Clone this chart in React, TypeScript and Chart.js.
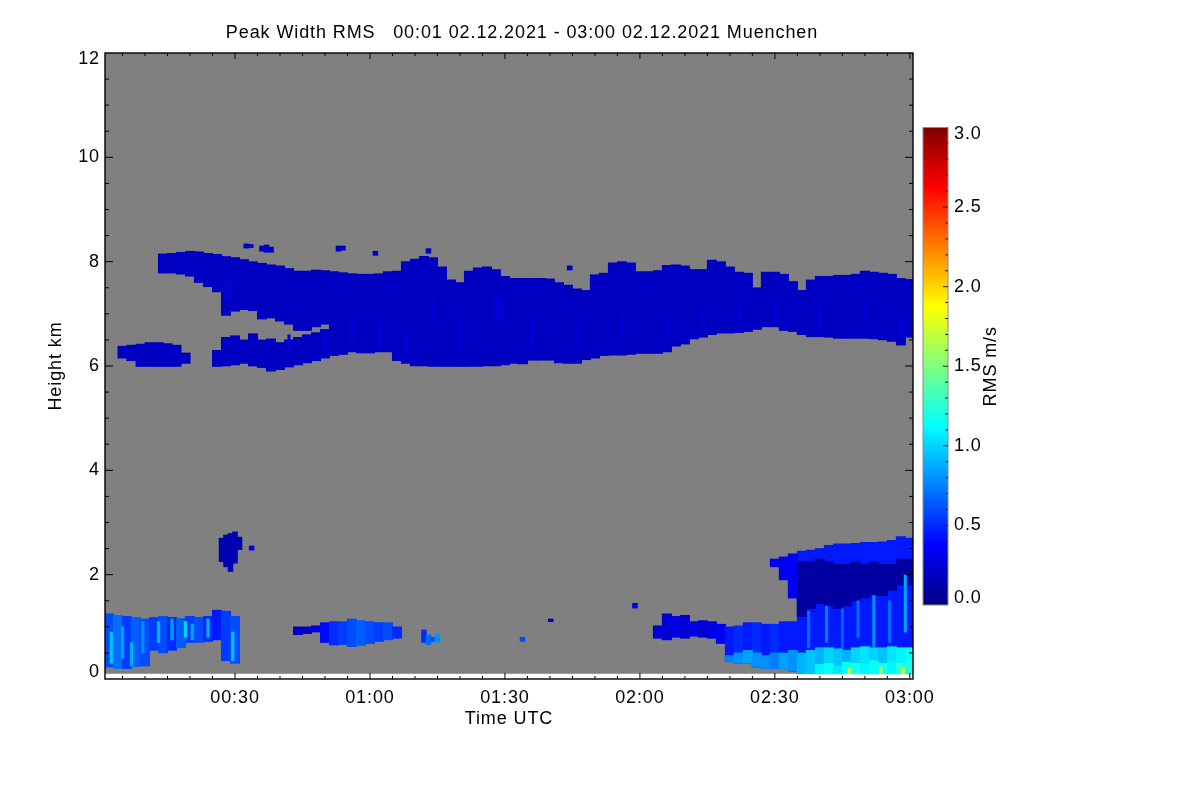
import React, { useEffect, useRef } from "react";
import Chart from "chart.js/auto";

// time axis in minutes after 00:00 UTC, height in km
const X_MIN = 1.1;
const X_MAX = 180.7;
const Y_MIN = 0;
const Y_MAX = 12;
const GATE_MIN = 0.1; // lowest range gate, below it the image is empty
const RMS_MAX = 3;

const xTickMinutes = [30, 60, 90, 120, 150, 180];
const xTickLabels = ["00:30", "01:00", "01:30", "02:00", "02:30", "03:00"];
const yTickValues = [0, 2, 4, 6, 8, 10, 12];
const cbTickValues = [0, 0.5, 1, 1.5, 2, 2.5, 3];
const cbTickLabels = ["0.0", "0.5", "1.0", "1.5", "2.0", "2.5", "3.0"];

// --- upper (ice) layer, 2 min columns
const upperTimes = [
  14, 16, 18, 20, 22, 24, 26, 28, 30, 32, 34, 36, 38, 40, 42, 44, 46, 48, 50, 52,
  54, 56, 58, 60, 62, 64, 66, 68, 70, 72, 74, 76, 78, 80, 82, 84, 86, 88, 90, 92,
  94, 96, 98, 100, 102, 104, 106, 108, 110, 112, 114, 116, 118, 120, 122, 124,
  126, 128, 130, 132, 134, 136, 138, 140, 142, 144, 146, 148, 150, 152, 154, 156,
  158, 160, 162, 164, 166, 168, 170, 172, 174, 176, 178, 180,
];
const upperTop = [
  8.15, 8.16, 8.18, 8.2, 8.19, 8.16, 8.14, 8.1, 8.08, 8.04,
  8.0, 7.97, 7.94, 7.92, 7.87, 7.82, 7.82, 7.84, 7.83, 7.81,
  7.79, 7.77, 7.76, 7.76, 7.77, 7.81, 7.82, 8.0, 8.05, 8.1,
  8.08, 7.9, 7.65, 7.6, 7.82, 7.88, 7.9, 7.85, 7.72, 7.68,
  7.68, 7.68, 7.68, 7.67, 7.6, 7.55, 7.48, 7.45, 7.75, 7.78,
  7.98, 8.0, 7.98, 7.81, 7.81, 7.83, 7.93, 7.94, 7.92, 7.85,
  7.85, 8.03, 8.0, 7.9, 7.8, 7.78, 7.5, 7.8, 7.8, 7.76,
  7.62, 7.45, 7.65, 7.72, 7.72, 7.74, 7.74, 7.76, 7.82, 7.8,
  7.78, 7.76, 7.68, 7.66,
];
const upperBase = [
  7.78, 7.78, 7.76, 7.72, 7.6, 7.52, 7.42, 6.97, 7.05, 7.08,
  7.06, 6.9, 6.92, 6.86, 6.8, 6.68, 6.68, 6.75, 6.8, 6.2,
  6.22, 6.27, 6.25, 6.25, 6.27, 6.27, 6.1, 6.05, 6.0, 6.0,
  5.99, 5.99, 5.99, 5.99, 5.99, 5.99, 6.0, 6.0, 6.02, 6.05,
  6.04, 6.11, 6.11, 6.11, 6.06, 6.05, 6.05, 6.12, 6.15, 6.2,
  6.21, 6.21, 6.22, 6.24, 6.24, 6.24, 6.27, 6.38, 6.42, 6.52,
  6.55, 6.6, 6.63, 6.63, 6.64, 6.66, 6.7, 6.75, 6.75, 6.68,
  6.66, 6.6, 6.56, 6.56, 6.55, 6.53, 6.53, 6.53, 6.53, 6.52,
  6.5, 6.47, 6.4, 6.55,
];
const upperRms = 0.2;

const lowerFragTimes = [26, 28, 30, 32, 34, 36, 38, 40, 42, 44, 46, 48, 50];
const lowerFragLo = [5.99, 6.0, 6.02, 6.05, 6.0, 5.97, 5.9, 5.93, 5.98, 6.02, 6.06, 6.1, 6.15];
const lowerFragHi = [6.3, 6.55, 6.58, 6.5, 6.62, 6.5, 6.52, 6.45, 6.5, 6.55, 6.6, 6.64, 6.7];

const westTimes = [5, 7, 9, 11, 13, 15, 17, 19];
const westLo = [6.15, 6.1, 5.99, 5.99, 5.99, 5.99, 5.99, 6.05];
const westHi = [6.38, 6.4, 6.42, 6.45, 6.45, 6.43, 6.4, 6.25];

const cirrusBitTimes = [32.5, 33.5, 36, 37, 38, 53, 54, 61.2, 73, 104.4];
const cirrusBitLo = [8.26, 8.27, 8.2, 8.18, 8.18, 8.2, 8.22, 8.12, 8.16, 7.84];
const cirrusBitHi = [8.34, 8.33, 8.3, 8.32, 8.28, 8.3, 8.3, 8.2, 8.25, 7.92];

const upperStreakTimes = [28, 29, 42, 50, 56, 62, 68, 74, 80, 88, 89, 96, 106, 116, 126, 134, 142, 150, 160, 170, 178];
const upperStreakLo = [7.25, 7.3, 6.3, 6.3, 6.4, 6.35, 6.2, 6.9, 6.3, 6.9, 6.8, 6.4, 6.4, 6.6, 6.5, 6.7, 6.8, 6.8, 6.7, 6.8, 6.55];
const upperStreakHi = [7.6, 7.55, 6.6, 6.7, 6.9, 6.8, 6.6, 7.3, 6.8, 7.4, 7.3, 6.9, 6.8, 7.0, 6.9, 7.1, 7.1, 7.2, 7.1, 7.2, 6.9];
const upperStreakRms = 0.28;

// --- boundary layer, first half hour
const blTimes = [2, 4, 6, 8, 10, 12, 14, 16, 18, 20, 22, 24, 26, 28, 30];
const blLo = [0.23, 0.2, 0.2, 0.24, 0.25, 0.55, 0.5, 0.55, 0.6, 0.7, 0.7, 0.72, 0.75, 0.35, 0.3];
const blHi = [1.25, 1.22, 1.2, 1.18, 1.15, 1.18, 1.2, 1.18, 1.16, 1.2, 1.18, 1.2, 1.32, 1.3, 1.2];
const blRms = [0.6, 0.7, 0.55, 0.65, 0.6, 0.55, 0.6, 0.5, 0.65, 0.55, 0.6, 0.5, 0.45, 0.55, 0.6];

const blStreakTimes = [2.5, 5, 7, 9.5, 13, 16, 19, 20.5, 24, 29.5];
const blStreakLo = [0.3, 0.4, 0.25, 0.5, 0.7, 0.75, 0.8, 0.75, 0.8, 0.35];
const blStreakHi = [0.9, 1.0, 0.7, 1.1, 1.1, 1.15, 1.1, 1.05, 1.15, 0.9];
const blStreakRms = [0.95, 0.85, 0.9, 0.8, 0.9, 0.85, 1.0, 0.85, 0.9, 0.95];

const blobTimes = [27, 28, 29, 30, 31];
const blobLo = [2.25, 2.15, 2.06, 2.22, 2.48];
const blobHi = [2.7, 2.76, 2.79, 2.82, 2.72];
const blobRms = 0.15;

const midTimes = [44, 46, 48, 50, 52, 54, 56, 58, 60, 62, 64, 66];
const midLo = [0.85, 0.87, 0.9, 0.7, 0.65, 0.66, 0.62, 0.64, 0.68, 0.72, 0.75, 0.78];
const midHi = [1.0, 1.0, 1.02, 1.08, 1.1, 1.1, 1.15, 1.12, 1.1, 1.08, 1.08, 1.0];
const midRms = [0.2, 0.2, 0.3, 0.4, 0.5, 0.55, 0.6, 0.65, 0.6, 0.55, 0.6, 0.5];

const smallTimes = [72, 73, 74, 75];
const smallLo = [0.7, 0.66, 0.72, 0.7];
const smallHi = [0.94, 0.84, 0.8, 0.86];
const smallRms = [0.5, 0.7, 0.6, 0.8];

const speckTimes = [33.7, 93.9, 100.2, 118.9];
const speckLo = [2.47, 0.72, 1.1, 1.36];
const speckHi = [2.55, 0.8, 1.15, 1.45];
const speckRms = [0.3, 0.6, 0.2, 0.3];

// --- boundary layer, last hour
const lrTimes = [124, 126, 128, 130, 132, 134, 136, 138, 140, 142, 144, 146, 148, 150, 152, 154];
const lrLo = [0.78, 0.75, 0.8, 0.78, 0.82, 0.8, 0.78, 0.68, 0.33, 0.3, 0.3, 0.22, 0.2, 0.2, 0.2, 0.15];
const lrHi = [1.02, 1.25, 1.2, 1.22, 1.1, 1.12, 1.1, 1.05, 1.0, 1.02, 1.08, 1.08, 1.05, 1.05, 1.1, 1.1];
const lrRms = [0.25, 0.25, 0.3, 0.25, 0.3, 0.25, 0.3, 0.35, 0.45, 0.5, 0.45, 0.5, 0.45, 0.5, 0.45, 0.45];

const fringeTimes = [150, 152, 154];
const fringeLo = [2.15, 1.9, 1.55];
const fringeHi = [2.3, 2.34, 2.4];
const fringeRms = 0.35;

const blockTimes = [156, 158, 160, 162, 164, 166, 168, 170, 172, 174, 176, 178, 180];
const blockTop = [2.45, 2.47, 2.5, 2.56, 2.59, 2.59, 2.6, 2.62, 2.62, 2.63, 2.66, 2.73, 2.7];
const blockRms = 0.45;
const coreLo = [1.2, 1.35, 1.45, 1.4, 1.35, 1.4, 1.5, 1.55, 1.6, 1.6, 1.7, 1.8, 1.8];
const coreHi = [2.25, 2.25, 2.3, 2.25, 2.2, 2.2, 2.25, 2.2, 2.25, 2.2, 2.2, 2.3, 2.3];
const coreRms = 0.1;

const blockStreakTimes = [157.5, 161.5, 165, 168.5, 172, 175.5, 179];
const blockStreakLo = [0.6, 0.7, 0.6, 0.8, 0.6, 0.7, 0.9];
const blockStreakHi = [1.3, 1.4, 1.35, 1.5, 1.6, 1.5, 2.0];
const blockStreakRms = [0.7, 0.75, 0.65, 0.7, 0.8, 0.7, 0.85];

const groundTimes = [140, 142, 144, 146, 148, 150, 152, 154, 156, 158, 160, 162, 164, 166, 168, 170, 172, 174, 176, 178, 180];
const groundLo = [0.33, 0.3, 0.3, 0.22, 0.2, 0.2, 0.2, 0.15, 0.1, 0.1, 0.1, 0.1, 0.1, 0.1, 0.1, 0.1, 0.1, 0.1, 0.1, 0.1, 0.1];
const groundHi = [0.45, 0.5, 0.55, 0.5, 0.45, 0.5, 0.5, 0.55, 0.5, 0.55, 0.6, 0.6, 0.58, 0.55, 0.6, 0.62, 0.6, 0.6, 0.62, 0.6, 0.6];
const groundRms = [0.75, 0.8, 0.85, 0.8, 0.8, 0.75, 0.85, 0.8, 0.9, 0.95, 0.9, 1.0, 0.95, 0.9, 1.0, 1.05, 1.0, 0.95, 1.05, 1.1, 1.15];

const surfaceTimes = [160, 162, 164, 166, 168, 170, 172, 174, 176, 178, 180];
const surfaceHi = [0.28, 0.3, 0.25, 0.32, 0.3, 0.28, 0.35, 0.3, 0.32, 0.3, 0.35];
const surfaceRms = [1.1, 1.15, 1.05, 1.15, 1.2, 1.1, 1.15, 1.2, 1.1, 1.25, 1.2];

const yellowTimes = [166.5, 173.5, 178.5];
const yellowHi = [0.2, 0.22, 0.2];
const yellowRms = [1.8, 1.75, 1.85];

// jet colour table, as on the colour bar
function jet(v: number): string {
  const t = Math.min(1, Math.max(0, v / RMS_MAX));
  const c = (x: number) => Math.round(255 * Math.min(1, Math.max(0, x)));
  const r = c(Math.min(4 * t - 1.5, -4 * t + 4.5));
  const g = c(Math.min(4 * t - 0.5, -4 * t + 3.5));
  const b = c(Math.min(4 * t + 0.5, -4 * t + 2.5));
  return `rgb(${r},${g},${b})`;
}

const PLOT = { left: 105, right: 913, top: 53, bottom: 679 };
const PX_PER_MIN = (PLOT.right - PLOT.left) / (X_MAX - X_MIN);
const CB = { left: 923, right: 948, top: 127.5, bottom: 605 };
const FONT = '18px "Liberation Sans", Arial, Helvetica, sans-serif';
const SPACING = "0.9px";

function band(
  label: string,
  t: number[],
  lo: number[] | number,
  hi: number[] | number,
  rms: number[] | number,
  widthMin: number,
  order: number
) {
  return {
    type: "bar" as const,
    label,
    data: t.map((x, i) => ({
      x,
      y: [Array.isArray(lo) ? lo[i] : lo, Array.isArray(hi) ? hi[i] : hi],
    })),
    backgroundColor: t.map((_, i) => jet(Array.isArray(rms) ? rms[i] : rms)),
    borderWidth: 0,
    barThickness: widthMin * PX_PER_MIN + 0.4,
    grouped: false,
    order,
  };
}

const setSpacing = (ctx: CanvasRenderingContext2D, s: string) => {
  (ctx as any).letterSpacing = s;
};

const framePlugin = {
  id: "radarFrame",
  beforeDatasetsDraw(chart: any) {
    const { ctx, chartArea: a } = chart;
    const y = chart.scales.y;
    const top = y.getPixelForValue(Y_MAX);
    const bot = y.getPixelForValue(GATE_MIN);
    ctx.save();
    ctx.fillStyle = "#808080";
    ctx.fillRect(a.left, top, a.right - a.left, bot - top);
    ctx.restore();
  },
  afterDraw(chart: any) {
    const { ctx, chartArea: a } = chart;
    const x = chart.scales.x;
    const y = chart.scales.y;
    ctx.save();
    ctx.strokeStyle = "#000";
    ctx.lineWidth = 1.4;
    ctx.strokeRect(a.left, a.top, a.right - a.left, a.bottom - a.top);

    // x ticks (inward, bottom and top)
    ctx.lineWidth = 1;
    ctx.beginPath();
    for (let m = 5; m <= 180; m += 5) {
      const px = x.getPixelForValue(m);
      const len = m % 30 === 0 ? 6 : 3;
      ctx.moveTo(px, a.bottom);
      ctx.lineTo(px, a.bottom - len);
      ctx.moveTo(px, a.top);
      ctx.lineTo(px, a.top + len);
    }
    // y ticks (inward, left and right)
    for (let h = 0.5; h < Y_MAX; h += 0.5) {
      const py = y.getPixelForValue(h);
      const len = h % 2 === 0 ? 8 : 4;
      ctx.moveTo(a.left, py);
      ctx.lineTo(a.left + len, py);
      ctx.moveTo(a.right, py);
      ctx.lineTo(a.right - len, py);
    }
    ctx.stroke();

    ctx.fillStyle = "#000";
    ctx.font = FONT;
    setSpacing(ctx, SPACING);
    ctx.textBaseline = "middle";

    ctx.textAlign = "center";
    xTickMinutes.forEach((m, i) => {
      ctx.fillText(xTickLabels[i], x.getPixelForValue(m), 698);
    });

    ctx.textAlign = "right";
    yTickValues.forEach((v) => {
      const py = y.getPixelForValue(v);
      const c = Math.min(a.bottom - 6.5, Math.max(a.top + 6.5, py));
      ctx.fillText(String(v), 100, c);
    });

    // titles
    ctx.textAlign = "center";
    ctx.fillText(
      "Peak Width RMS   00:01 02.12.2021 - 03:00 02.12.2021 Muenchen",
      522,
      33
    );
    ctx.fillText("Time UTC", (a.left + a.right) / 2, 719);
    ctx.save();
    ctx.translate(56, (a.top + a.bottom) / 2);
    ctx.rotate(-Math.PI / 2);
    ctx.fillText("Height km", 0, 0);
    ctx.restore();

    // colour bar
    const g = ctx.createLinearGradient(0, CB.bottom, 0, CB.top);
    for (let i = 0; i <= 24; i++) g.addColorStop(i / 24, jet((i / 24) * RMS_MAX));
    ctx.fillStyle = g;
    ctx.fillRect(CB.left, CB.top, CB.right - CB.left, CB.bottom - CB.top);
    ctx.strokeStyle = "#8a8a8a";
    ctx.lineWidth = 1;
    ctx.strokeRect(CB.left, CB.top, CB.right - CB.left, CB.bottom - CB.top);
    const cbPx = (v: number) => CB.bottom - (v / RMS_MAX) * (CB.bottom - CB.top);
    ctx.strokeStyle = "#222";
    ctx.beginPath();
    for (let k = 1; k < 30; k++) {
      const py = cbPx(k / 10);
      const len = k % 5 === 0 ? 5 : 3;
      ctx.moveTo(CB.right, py);
      ctx.lineTo(CB.right - len, py);
    }
    ctx.stroke();
    ctx.fillStyle = "#000";
    ctx.textAlign = "left";
    cbTickValues.forEach((v, i) => {
      const c = Math.min(CB.bottom - 6.5, Math.max(CB.top + 6.5, cbPx(v)));
      ctx.fillText(cbTickLabels[i], 954, c);
    });
    ctx.textAlign = "center";
    ctx.translate(991, (CB.top + CB.bottom) / 2);
    ctx.rotate(-Math.PI / 2);
    ctx.fillText("RMS m/s", 0, 0);
    setSpacing(ctx, "0px");
    ctx.restore();
  },
};

export default function App() {
  const canvasRef = useRef<HTMLCanvasElement>(null);
  const chartRef = useRef<Chart | null>(null);

  useEffect(() => {
    document.body.style.margin = "0";
    const canvas = canvasRef.current;
    if (!canvas) return;
    if (chartRef.current) chartRef.current.destroy();

    const datasets = [
      band("upper layer", upperTimes, upperBase, upperTop, upperRms, 2, 3),
      band("upper fragment", lowerFragTimes, lowerFragLo, lowerFragHi, upperRms, 2, 3),
      band("west cloud", westTimes, westLo, westHi, upperRms, 2, 3),
      band("cirrus bits", cirrusBitTimes, cirrusBitLo, cirrusBitHi, upperRms, 1, 3),
      band("upper streaks", upperStreakTimes, upperStreakLo, upperStreakHi, upperStreakRms, 0.45, 2),
      band("boundary layer", blTimes, blLo, blHi, blRms, 2, 3),
      band("boundary streaks", blStreakTimes, blStreakLo, blStreakHi, blStreakRms, 0.5, 2),
      band("blob", blobTimes, blobLo, blobHi, blobRms, 1, 3),
      band("mid", midTimes, midLo, midHi, midRms, 2, 3),
      band("small", smallTimes, smallLo, smallHi, smallRms, 1, 3),
      band("specks", speckTimes, speckLo, speckHi, speckRms, 1, 3),
      band("late layer", lrTimes, lrLo, lrHi, lrRms, 2, 3),
      band("fringe", fringeTimes, fringeLo, fringeHi, fringeRms, 2, 3),
      band("block", blockTimes, GATE_MIN, blockTop, blockRms, 2, 3),
      band("core", blockTimes, coreLo, coreHi, coreRms, 2, 2),
      band("ground", groundTimes, groundLo, groundHi, groundRms, 2, 2),
      band("block streaks", blockStreakTimes, blockStreakLo, blockStreakHi, blockStreakRms, 0.45, 1),
      band("surface", surfaceTimes, GATE_MIN, surfaceHi, surfaceRms, 2, 1),
      band("yellow", yellowTimes, GATE_MIN, yellowHi, yellowRms, 0.45, 0),
    ];

    chartRef.current = new Chart(canvas, {
      type: "bar",
      data: { datasets: datasets as any },
      options: {
        responsive: false,
        devicePixelRatio: 1,
        animation: false,
        events: [],
        layout: {
          padding: {
            left: PLOT.left,
            right: 1200 - PLOT.right,
            top: PLOT.top,
            bottom: 800 - PLOT.bottom,
          },
        },
        scales: {
          x: { type: "linear", min: X_MIN, max: X_MAX, offset: false, display: false },
          y: { type: "linear", min: Y_MIN, max: Y_MAX, display: false },
        },
        plugins: {
          legend: { display: false },
          tooltip: { enabled: false },
        },
      },
      plugins: [framePlugin],
    });

    return () => {
      if (chartRef.current) {
        chartRef.current.destroy();
        chartRef.current = null;
      }
    };
  }, []);

  return (
    <div style={{ width: 1200, height: 800, background: "#fff" }}>
      <canvas ref={canvasRef} width={1200} height={800} style={{ display: "block" }} />
    </div>
  );
}
